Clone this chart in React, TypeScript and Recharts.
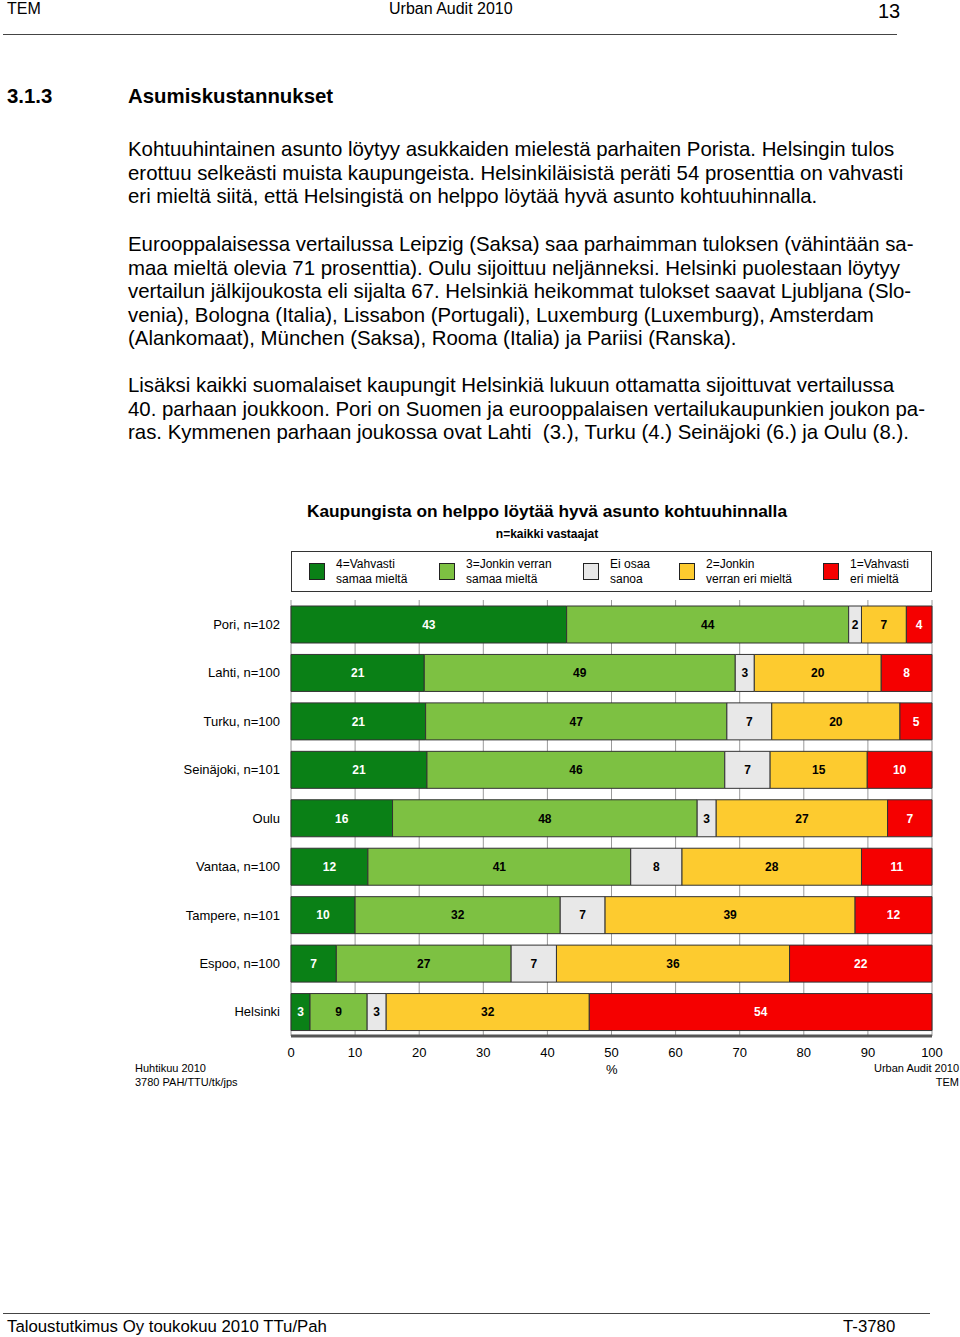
import React from 'react';
import { BarChart, Bar, XAxis, YAxis, CartesianGrid, LabelList } from 'recharts';

const cities = ['Pori, n=102', 'Lahti, n=100', 'Turku, n=100', 'Seinäjoki, n=101', 'Oulu', 'Vantaa, n=100', 'Tampere, n=101', 'Espoo, n=100', 'Helsinki'];
const strongAgree = [43, 21, 21, 21, 16, 12, 10, 7, 3];
const someAgree = [44, 49, 47, 46, 48, 41, 32, 27, 9];
const dontKnow = [2, 3, 7, 7, 3, 8, 7, 7, 3];
const someDisagree = [7, 20, 20, 15, 27, 28, 39, 36, 32];
const strongDisagree = [4, 8, 5, 10, 7, 11, 12, 22, 54];
const xTickLabels = [0, 10, 20, 30, 40, 50, 60, 70, 80, 90, 100];

const seriesKeys = ['s4', 's3', 's0', 's2', 's1'];
const seriesNames = ['4=Vahvasti\nsamaa mieltä', '3=Jonkin verran\nsamaa mieltä', 'Ei osaa\nsanoa', '2=Jonkin\nverran eri mieltä', '1=Vahvasti\neri mieltä'];
const seriesColors = ['#0a8016', '#7dc142', '#e8e8e8', '#fdcb2f', '#f50000'];
const labelColors = ['#ffffff', '#000000', '#000000', '#000000', '#ffffff'];

const data = cities.map((city, i) => ({
  city,
  s4: strongAgree[i],
  s3: someAgree[i],
  s0: dontKnow[i],
  s2: someDisagree[i],
  s1: strongDisagree[i],
}));

const FONT = '"Liberation Sans", Arial, Helvetica, sans-serif';

const para1 = [
  'Kohtuuhintainen asunto löytyy asukkaiden mielestä parhaiten Porista. Helsingin tulos',
  'erottuu selkeästi muista kaupungeista. Helsinkiläisistä peräti 54 prosenttia on vahvasti',
  'eri mieltä siitä, että Helsingistä on helppo löytää hyvä asunto kohtuuhinnalla.',
];
const para2 = [
  'Eurooppalaisessa vertailussa Leipzig (Saksa) saa parhaimman tuloksen (vähintään sa-',
  'maa mieltä olevia 71 prosenttia). Oulu sijoittuu neljänneksi. Helsinki puolestaan löytyy',
  'vertailun jälkijoukosta eli sijalta 67. Helsinkiä heikommat tulokset saavat Ljubljana (Slo-',
  'venia), Bologna (Italia), Lissabon (Portugali), Luxemburg (Luxemburg), Amsterdam',
  '(Alankomaat), München (Saksa), Rooma (Italia) ja Pariisi (Ranska).',
];
const para3 = [
  'Lisäksi kaikki suomalaiset kaupungit Helsinkiä lukuun ottamatta sijoittuvat vertailussa',
  '40. parhaan joukkoon. Pori on Suomen ja eurooppalaisen vertailukaupunkien joukon pa-',
  'ras. Kymmenen parhaan joukossa ovat Lahti  (3.), Turku (4.) Seinäjoki (6.) ja Oulu (8.).',
];

const legendX = [309, 439, 583, 679, 823];

function Para({ lines, top }: { lines: string[]; top: number }) {
  return (
    <div style={{ position: 'absolute', left: 128, top, fontSize: 20.4, lineHeight: '23.6px', whiteSpace: 'pre', color: '#000' }}>
      {lines.map((l, i) => (
        <div key={i}>{l}</div>
      ))}
    </div>
  );
}

export default function App() {
  return (
    <div style={{ position: 'absolute', left: 0, top: 0, width: 960, height: 1337, background: '#fff', fontFamily: FONT, color: '#000', overflow: 'hidden' }}>
      {/* header */}
      <div style={{ position: 'absolute', left: 7, top: 0, fontSize: 16, lineHeight: '17px' }}>TEM</div>
      <div style={{ position: 'absolute', left: 389, top: 0, fontSize: 16, lineHeight: '17px' }}>Urban Audit 2010</div>
      <div style={{ position: 'absolute', left: 878, top: 0, fontSize: 20 }}>13</div>
      <div style={{ position: 'absolute', left: 3, top: 34, width: 894, height: 1, background: '#444' }} />

      {/* heading */}
      <div style={{ position: 'absolute', left: 7, top: 85, fontSize: 20.4, fontWeight: 'bold' }}>3.1.3</div>
      <div style={{ position: 'absolute', left: 128, top: 85, fontSize: 20.4, fontWeight: 'bold' }}>Asumiskustannukset</div>

      <Para lines={para1} top={138} />
      <Para lines={para2} top={233} />
      <Para lines={para3} top={374} />

      {/* chart title */}
      <div style={{ position: 'absolute', left: 0, width: 1094, top: 501, textAlign: 'center', fontSize: 17.3, fontWeight: 'bold' }}>
        Kaupungista on helppo löytää hyvä asunto kohtuuhinnalla
      </div>
      <div style={{ position: 'absolute', left: 0, width: 1094, top: 527, textAlign: 'center', fontSize: 12, fontWeight: 'bold' }}>
        n=kaikki vastaajat
      </div>

      {/* legend */}
      <div style={{ position: 'absolute', left: 291, top: 551, width: 639, height: 39, border: '1px solid #333' }} />
      {seriesKeys.map((k, i) => (
        <React.Fragment key={k}>
          <div style={{ position: 'absolute', left: legendX[i], top: 563, width: 14, height: 15, background: seriesColors[i], border: '1px solid #222' }} />
          <div style={{ position: 'absolute', left: legendX[i] + 27, top: 557, fontSize: 12, lineHeight: '15px', whiteSpace: 'pre' }}>
            {seriesNames[i]}
          </div>
        </React.Fragment>
      ))}

      {/* chart */}
      <div style={{ position: 'absolute', left: 0, top: 590 }}>
        <BarChart
          width={960}
          height={500}
          data={data}
          layout="vertical"
          stackOffset="expand"
          barSize={37}
          margin={{ top: 10, right: 28, bottom: 24, left: 0 }}
        >
          <CartesianGrid horizontal={false} stroke="#9a9a9a" strokeWidth={1} />
          <XAxis
            type="number"
            domain={[0, 1]}
            ticks={xTickLabels.map((t) => t / 100)}
            tickFormatter={(v: number) => String(Math.round(v * 100))}
            axisLine={{ stroke: '#555', strokeWidth: 3 }}
            tickLine={false}
            tickSize={10}
            height={30}
            tick={{ fontSize: 13, fill: '#000', fontFamily: FONT }}
            interval={0}
          />
          <XAxis
            xAxisId="top"
            orientation="top"
            type="number"
            domain={[0, 1]}
            height={0}
            tick={false}
            tickLine={false}
            axisLine={{ stroke: '#9a9a9a', strokeWidth: 1 }}
          />
          <YAxis
            type="category"
            dataKey="city"
            width={291}
            axisLine={false}
            tickLine={false}
            tickSize={9}
            tick={{ fontSize: 13, fill: '#000', fontFamily: FONT }}
            interval={0}
          />
          {seriesKeys.map((k, i) => (
            <Bar key={k} dataKey={k} stackId="a" fill={seriesColors[i]} stroke="#333" strokeWidth={1} isAnimationActive={false}>
              <LabelList dataKey={k} position="center" fill={labelColors[i]} fontSize={12} fontWeight="bold" fontFamily={FONT} />
            </Bar>
          ))}
        </BarChart>
      </div>
      <div style={{ position: 'absolute', left: 606, top: 1062, fontSize: 13 }}>%</div>

      {/* footnotes */}
      <div style={{ position: 'absolute', left: 135, top: 1061, fontSize: 11, lineHeight: '14px' }}>
        Huhtikuu 2010<br />3780 PAH/TTU/tk/jps
      </div>
      <div style={{ position: 'absolute', right: 1, top: 1061, fontSize: 11, lineHeight: '14px', textAlign: 'right' }}>
        Urban Audit 2010<br />TEM
      </div>

      {/* footer */}
      <div style={{ position: 'absolute', left: 3, top: 1313, width: 927, height: 1, background: '#444' }} />
      <div style={{ position: 'absolute', left: 7, top: 1317, fontSize: 16.8 }}>Taloustutkimus Oy toukokuu 2010 TTu/Pah</div>
      <div style={{ position: 'absolute', left: 843, top: 1317, fontSize: 16.8 }}>T-3780</div>
    </div>
  );
}
